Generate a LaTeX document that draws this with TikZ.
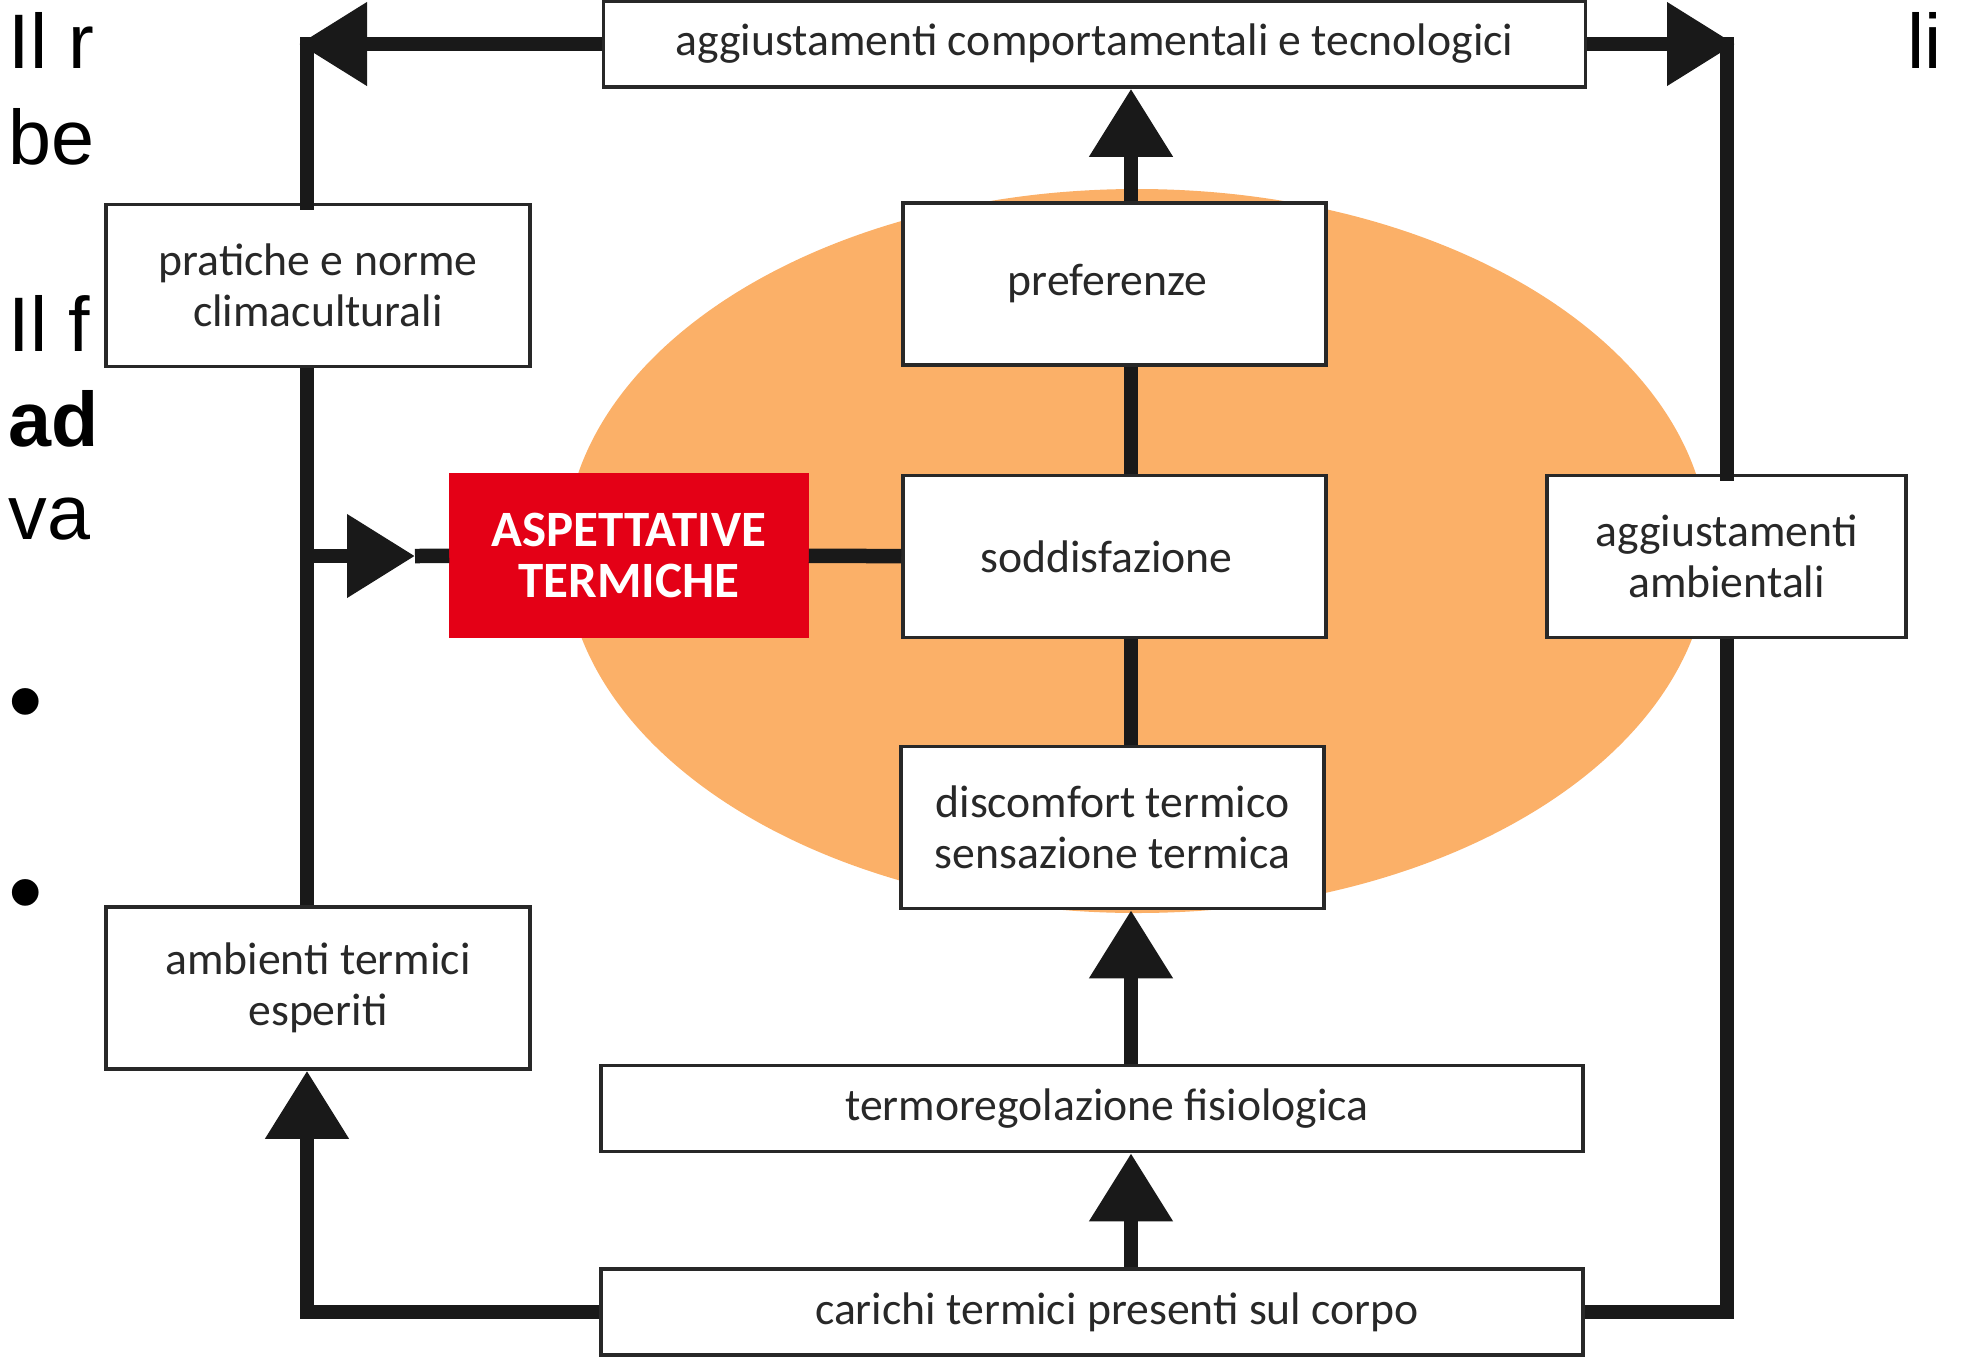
\documentclass[tikz,border=0pt]{standalone}
\usepackage{fontspec}
\setmainfont{Carlito}
\newfontfamily\slidefont{Liberation Sans}
\usetikzlibrary{arrows.meta}
\definecolor{blob}{RGB}{251,176,104}
\definecolor{alarm}{RGB}{228,0,22}
\definecolor{ink}{RGB}{40,40,40}

\begin{document}
\begin{tikzpicture}[
    box/.style={draw=ink, line width=1pt, fill=white, text=ink, align=center, inner sep=0pt,
      font=\fontsize{13}{14.5}\selectfont},
    wide/.style={box, minimum width=9.82cm, minimum height=0.86cm},
    mid/.style={box, minimum width=4.23cm, minimum height=1.62cm},
    side/.style={box, minimum width=4.24cm, minimum height=1.62cm},
    link/.style={line width=0.145cm, draw=black!90},
    arr/.style={link, -{Triangle[length=6.8mm, width=8mm]}},
    slide/.style={anchor=base west, inner sep=0pt, font=\slidefont\fontsize{22}{26}\selectfont},
    dot/.style={inner sep=0pt, font=\slidefont\fontsize{28}{30}\selectfont}
  ]
  \useasboundingbox (0,0) rectangle (19.62,-13.59);

  % slide text behind the figure
  \node[slide] (s1) at (0.08,-0.68) {Il r};
  \node[slide] (s2) at (0.08,-1.64) {be};
  \node[slide] (s3) at (0.08,-3.51) {Il f};
  \node[slide, font=\slidefont\bfseries\fontsize{22}{26}\selectfont] (s4) at (0.08,-4.46) {ad};
  \node[slide] (s5) at (0.08,-5.39) {va};
  \node[slide] (s6) at (19.07,-0.68) {li};
  \node[dot] (b1) at (0.26,-7.12) {•};
  \node[dot] (b2) at (0.26,-9.03) {•};

  \fill[blob] (11.37,-5.51) ellipse [x radius=5.72, y radius=3.62];

  \node[wide] (1) at (10.945,-0.44) {aggiustamenti comportamentali e tecnologici};
  \node[mid] (2) at (11.145,-2.84) {\hspace*{-0.14cm}preferenze};
  \node[mid, below of=2, yshift=-1.725cm] (3) {\hspace*{-0.16cm}soddisfazione};
  \node[mid, below of=3, xshift=-0.02cm, yshift=-1.71cm] (4) {discomfort termico\\sensazione termica};
  \node[wide] (5) at (10.92,-11.085) {\hspace*{0.3cm}termoregolazione fisiologica};
  \node[wide] (6) at (10.92,-13.12) {\hspace*{0.5cm}carichi termici presenti sul corpo};
  \node[side] (7) at (3.18,-2.855) {pratiche e norme\\climaculturali};
  \node[side] (8) at (3.18,-9.88) {ambienti termici\\esperiti};
  \node[box, fill=alarm, draw=alarm, text=white, minimum width=3.56cm, minimum height=1.61cm,
    font=\bfseries\fontsize{14.5}{14.5}\selectfont] (9) at (6.29,-5.555) {ASPETTATIVE\\TERMICHE};
  \node[side, minimum width=3.59cm] (10) at (17.265,-5.565) {aggiustamenti\\ambientali};

  \coordinate (tl) at (3.07,-0.44);
  \coordinate (tr) at (17.27,-0.44);
  \coordinate (bl) at (3.07,-13.12);
  \coordinate (br) at (17.27,-13.12);
  \coordinate (ml) at (3.07,-5.56);
  \coordinate (ma) at (4.15,-5.56);
  \coordinate (sp) at (11.31,0);

  \draw[arr, shorten >=-0.08cm] (1) -- (tl);
  \draw[link, line cap=rect] (tl) -- (7.north -| tl);
  \draw[link] (7.south -| tl) -- (8.north -| tl);
  \draw[arr] (ml) -- (ma);
  \draw[link] (ma) -- (9);
  \draw[link] (9) -- (3);
  \draw[arr] (6) -- (bl) -- (8.south -| bl);
  \draw[arr, shorten >=-0.08cm] (1) -- (tr);
  \draw[link, line cap=rect] (tr) -- (10.north -| tr);
  \draw[link] (10.south -| br) -- (br) -- (6);
  \draw[arr] (2.north -| sp) -- (1.south -| sp);
  \draw[link] (3.north -| sp) -- (2.south -| sp);
  \draw[link] (4.north -| sp) -- (3.south -| sp);
  \draw[arr] (5.north -| sp) -- (4.south -| sp);
  \draw[arr] (6.north -| sp) -- (5.south -| sp);
\end{tikzpicture}
\end{document}
